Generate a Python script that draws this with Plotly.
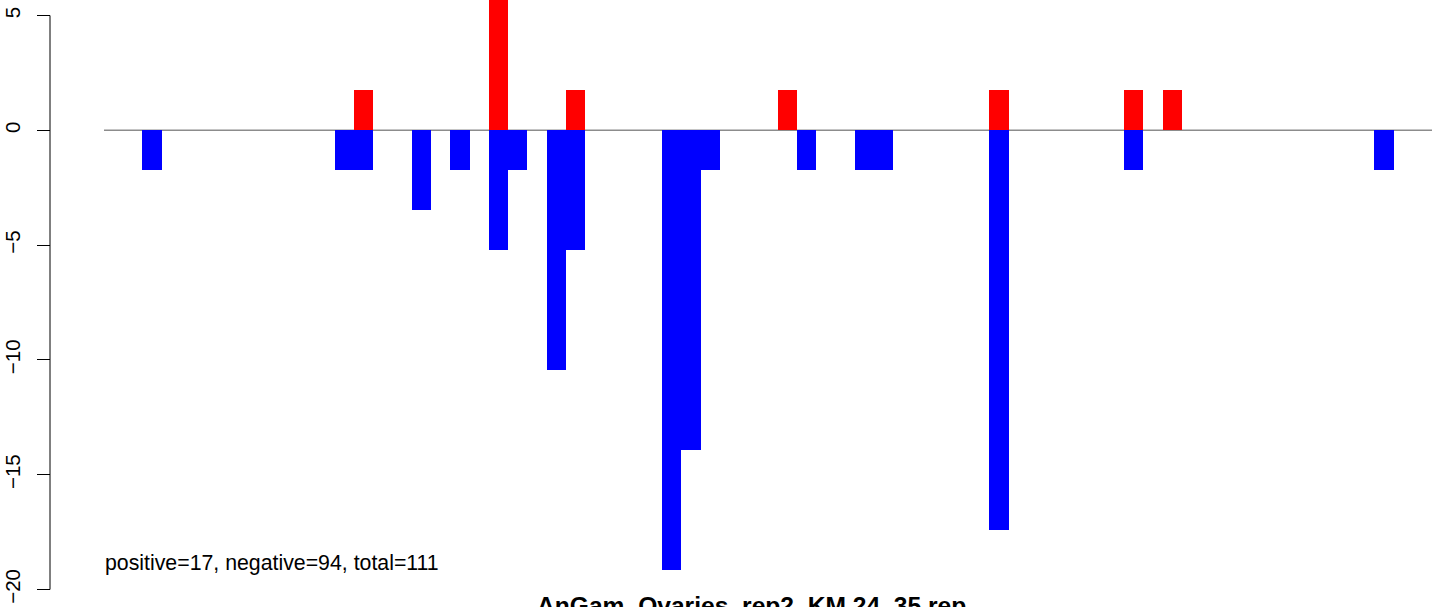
import plotly.graph_objects as go

# ---- data ----
neg_bins = [2, 12, 13, 16, 18, 20, 21, 23, 24, 29, 30, 31, 36, 39, 40, 46, 53, 66]
neg_values = [-1.74, -1.74, -1.74, -3.48, -1.74, -5.22, -1.74, -10.43, -5.22,
              -19.13, -13.91, -1.74, -1.74, -1.74, -1.74, -17.39, -1.74, -1.74]
pos_bins = [13, 20, 24, 35, 46, 53, 55]
pos_values = [1.74, 6.56, 1.74, 1.74, 1.74, 1.74, 1.74]
n_bins = 69

y_tick_vals = [5, 0, -5, -10, -15, -20]
y_tick_text = ["5", "0", "\u22125", "\u221210", "\u221215", "\u221220"]

summary_text = "positive=17, negative=94, total=111"
title_text = "AnGam_Ovaries_rep2_KM 24_35 rep"

FONT = "Liberation Sans, Arial, Helvetica, sans-serif"

fig = go.Figure()
fig.add_trace(go.Bar(x=[b + 0.5 for b in neg_bins], y=neg_values, width=1,
                     marker=dict(color="#0000FF", line=dict(width=0)),
                     showlegend=False))
fig.add_trace(go.Bar(x=[b + 0.5 for b in pos_bins], y=pos_values, width=1,
                     marker=dict(color="#FF0000", line=dict(width=0)),
                     showlegend=False))

W, H = 1439, 607
ml, mr = 50, 7
plot_w = W - ml - mr
x_dom0 = (104 - ml) / plot_w

px_per_unit = (589.5 - 15.5) / 25.0
y_top = 5 + 15.5 / px_per_unit
y_bot = -20 - (H - 589.5) / px_per_unit

fig.update_layout(
    width=W, height=H,
    margin=dict(l=ml, r=mr, t=0, b=0, autoexpand=False),
    paper_bgcolor="white", plot_bgcolor="white",
    barmode="overlay", bargap=0,
    font=dict(family=FONT, size=20.5, color="black"),
    xaxis=dict(domain=[x_dom0, 1], range=[0, n_bins], showgrid=False,
               zeroline=False, showline=False, showticklabels=False,
               ticks="", fixedrange=True),
    yaxis=dict(anchor="free", position=0, range=[y_bot, y_top],
               showgrid=False, zeroline=False, showline=False,
               tickmode="array", tickvals=y_tick_vals, ticktext=y_tick_text,
               ticks="outside", ticklen=13, tickwidth=1, tickcolor="black",
               tickangle=-90, ticklabelstandoff=9, automargin=False,
               tickfont=dict(family=FONT, size=20.5, color="black")),
    shapes=[
        dict(type="line", xref="x", yref="y", x0=0, x1=n_bins, y0=0, y1=0,
             line=dict(color="#8c8c8c", width=1.5), layer="below"),
        dict(type="line", xref="paper", yref="y", x0=0, x1=0, y0=-20, y1=5,
             line=dict(color="black", width=1)),
    ],
    annotations=[
        dict(text=summary_text, xref="paper", yref="y",
             x=(102.5 - ml) / plot_w, y=-18.85,
             xanchor="left", yanchor="middle", showarrow=False,
             font=dict(family=FONT, size=21.3, color="black")),
        dict(text="<b>" + title_text + "</b>", xref="paper", yref="y",
             x=(751 - ml) / plot_w, y=-20.7,
             xanchor="center", yanchor="middle", showarrow=False,
             font=dict(family=FONT, size=24.6, color="black")),
    ],
)

fig.write_html(
    "out.html",
    config={"displayModeBar": False},
    post_script="document.body.style.margin='0';document.body.style.overflow='hidden';",
)
